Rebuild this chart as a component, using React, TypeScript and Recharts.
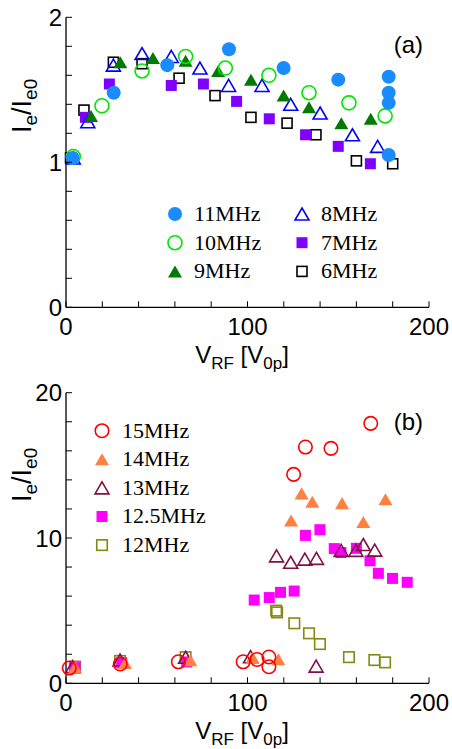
import React from 'react';
import { ScatterChart, Scatter, XAxis, YAxis, Legend } from 'recharts';

const SANS = '"Liberation Sans", Arial, Helvetica, sans-serif';
const SERIF = '"Liberation Serif", "Times New Roman", serif';

// ---------- ticks ----------
const xTicks = [0, 20, 40, 60, 80, 100, 120, 140, 160, 180, 200];
const xTickLabels = [0, 100, 200];
const yTicksA = [0, 0.2, 0.4, 0.6, 0.8, 1, 1.2, 1.4, 1.6, 1.8, 2];
const yTickLabelsA = [0, 1, 2];
const yTicksB = [0, 2, 4, 6, 8, 10, 12, 14, 16, 18, 20];
const yTickLabelsB = [0, 10, 20];

// ---------- panel (a) ----------
const v11MHz = [3.7, 26.3, 55.8, 89.8, 119.9, 150, 177.8, 177.8, 177.8, 177.8];
const r11MHz = [1.03, 1.48, 1.67, 1.78, 1.65, 1.57, 1.59, 1.48, 1.41, 1.05];
const v10MHz = [4, 19.8, 41.9, 65.9, 87.8, 111.8, 133.9, 155.9, 175.8];
const r10MHz = [1.04, 1.39, 1.63, 1.73, 1.65, 1.6, 1.48, 1.41, 1.32];
const v9MHz = [13.8, 29.9, 47.9, 65.9, 83.8, 101.9, 119.9, 133.9, 151.7, 167.9];
const r9MHz = [1.32, 1.69, 1.72, 1.7, 1.63, 1.57, 1.46, 1.38, 1.27, 1.3];
const v8MHz = [4, 12, 26.1, 41.9, 58, 73.8, 89.6, 108, 123.8, 140, 157.8, 171.7];
const r8MHz = [1.03, 1.28, 1.67, 1.75, 1.73, 1.65, 1.53, 1.53, 1.4, 1.34, 1.19, 1.11];
const v7MHz = [10.7, 23.9, 58, 75.7, 94, 112, 132, 150, 167.7];
const r7MHz = [1.31, 1.54, 1.53, 1.54, 1.42, 1.3, 1.19, 1.11, 0.99];
const v6MHz = [2.5, 9.9, 26.1, 41.9, 62.3, 82.1, 101.9, 121.8, 137.7, 160, 180];
const r6MHz = [1.03, 1.36, 1.69, 1.68, 1.58, 1.46, 1.31, 1.27, 1.19, 1.01, 0.99];

// ---------- panel (b) ----------
const v15MHz = [1.8, 29.9, 61.9, 97.6, 105.3, 111.8, 111.8, 125.4, 131.9, 146, 167.9];
const r15MHz = [1.05, 1.33, 1.48, 1.48, 1.64, 1.81, 1.14, 14.38, 16.26, 16.17, 17.89];
const v14MHz = [5, 32.5, 68.5, 102.7, 117, 124, 129.8, 135.7, 152.1, 163.8, 176];
const r14MHz = [1.1, 1.4, 1.58, 1.8, 1.65, 11.2, 13.07, 12.5, 12.4, 11.1, 12.66];
const v13MHz = [3.7, 29.8, 65.9, 101.7, 116, 123.8, 131.6, 138, 137.8, 151.6, 159.7, 163.8, 170.1];
const r13MHz = [1.15, 1.6, 1.79, 1.83, 8.77, 8.33, 8.55, 8.6, 1.18, 9.15, 9.15, 9.55, 9.17];
const v12p5MHz = [5, 30.7, 66.5, 103.7, 112, 118.2, 125.7, 131.9, 139.9, 147.8, 151.5, 160, 167.5, 172.1, 179.9, 188];
const r12p5MHz = [1.08, 1.42, 1.47, 5.73, 5.9, 6.26, 6.35, 10.18, 10.57, 9.27, 9.0, 9.29, 8.43, 7.57, 7.22, 6.95];
const v12MHz = [5, 29.8, 65.9, 115.8, 116.3, 125.8, 133.9, 139.9, 155.9, 169.9, 175.8];
const r12MHz = [1.15, 1.54, 1.8, 5.0, 4.88, 4.13, 3.44, 2.7, 1.8, 1.6, 1.44];

const zip = (xs: number[], ys: number[]) => xs.map((x, i) => ({ x, y: ys[i] }));

type Kind = 'circle' | 'triangle' | 'square';
interface Series {
  name: string;
  kind: Kind;
  filled: boolean;
  color: string;
  size: number;
  data: { x: number; y: number }[];
}

const seriesA: Series[] = [
  { name: '6MHz', kind: 'square', filled: false, color: '#000000', size: 10, data: zip(v6MHz, r6MHz) },
  { name: '7MHz', kind: 'square', filled: true, color: '#8000ff', size: 11, data: zip(v7MHz, r7MHz) },
  { name: '8MHz', kind: 'triangle', filled: false, color: '#0000ff', size: 14, data: zip(v8MHz, r8MHz) },
  { name: '9MHz', kind: 'triangle', filled: true, color: '#007a00', size: 14, data: zip(v9MHz, r9MHz) },
  { name: '10MHz', kind: 'circle', filled: false, color: '#00e600', size: 14, data: zip(v10MHz, r10MHz) },
  { name: '11MHz', kind: 'circle', filled: true, color: '#1a8cff', size: 14, data: zip(v11MHz, r11MHz) },
];
const legendOrderA = ['11MHz', '10MHz', '9MHz', '8MHz', '7MHz', '6MHz'];

const seriesB: Series[] = [
  { name: '12MHz', kind: 'square', filled: false, color: '#878712', size: 10.5, data: zip(v12MHz, r12MHz) },
  { name: '12.5MHz', kind: 'square', filled: true, color: '#ff00ff', size: 11, data: zip(v12p5MHz, r12p5MHz) },
  { name: '13MHz', kind: 'triangle', filled: false, color: '#80104a', size: 14, data: zip(v13MHz, r13MHz) },
  { name: '14MHz', kind: 'triangle', filled: true, color: '#ff8040', size: 14, data: zip(v14MHz, r14MHz) },
  { name: '15MHz', kind: 'circle', filled: false, color: '#ff0000', size: 13.5, data: zip(v15MHz, r15MHz) },
];
const legendOrderB = ['15MHz', '14MHz', '13MHz', '12.5MHz', '12MHz'];

function Marker({ kind, cx, cy, color, filled, size }: any) {
  if (cx == null || cy == null) return null;
  const style = filled
    ? { fill: color, stroke: 'none' }
    : { fill: 'none', stroke: color, strokeWidth: 1.6 };
  if (kind === 'circle') return <circle cx={cx} cy={cy} r={size / 2} {...style} />;
  if (kind === 'square')
    return <rect x={cx - size / 2} y={cy - size / 2} width={size} height={size} {...style} />;
  const h = size * 0.86;
  return (
    <polygon
      points={`${cx},${cy - h / 2} ${cx + size / 2},${cy + h / 2} ${cx - size / 2},${cy + h / 2}`}
      {...style}
    />
  );
}

function AxisTick(props: any) {
  const { x, y, payload, side, labels } = props;
  const v = payload?.value;
  const L = 6;
  const show = labels && labels.includes(v);
  if (side === 'bottom')
    return (
      <g>
        <line x1={x} y1={y} x2={x} y2={y - L} stroke="#000" strokeWidth={1} />
        {show && (
          <text x={x} y={y + 27.5} textAnchor="middle" fontFamily={SANS} fontSize={24} fill="#000">
            {v}
          </text>
        )}
      </g>
    );
  if (side === 'top') return <line x1={x} y1={y} x2={x} y2={y + L} stroke="#000" strokeWidth={1} />;
  if (side === 'left')
    return (
      <g>
        <line x1={x} y1={y} x2={x + L} y2={y} stroke="#000" strokeWidth={1} />
        {show && (
          <text x={x - 4} y={y + 8.6} textAnchor="end" fontFamily={SANS} fontSize={24} fill="#000">
            {v}
          </text>
        )}
      </g>
    );
  return <line x1={x} y1={y} x2={x - L} y2={y} stroke="#000" strokeWidth={1} />;
}

const XLabel = ({ baseY }: { baseY: number }) => (
  <text x={242} y={baseY} textAnchor="middle" fontFamily={SANS} fontSize={24} fill="#000">
    V<tspan fontSize={17} dy={6}>RF</tspan>
    <tspan fontSize={24} dy={-6}> [V</tspan>
    <tspan fontSize={17} dy={6}>0p</tspan>
    <tspan fontSize={24} dy={-6}>]</tspan>
  </text>
);

// rotated label, starting at its lower end (startY) and reading upwards
const YLabel = ({ startY }: { startY: number }) => (
  <text
    x={31}
    y={startY}
    transform={`rotate(-90, 31, ${startY})`}
    textAnchor="start"
    fontFamily={SANS}
    fontSize={27}
    fill="#000"
  >
    I<tspan fontSize={19} dy={6}>e</tspan>
    <tspan fontSize={27} dy={-6}>/I</tspan>
    <tspan fontSize={19} dy={6}>e0</tspan>
  </text>
);

function LegendOverlay({ series, order, cols, panel, panelY, width, height }: any) {
  const byName: Record<string, Series> = {};
  series.forEach((s: Series) => (byName[s.name] = s));
  return (
    <svg width={width} height={height} style={{ display: 'block', pointerEvents: 'none' }}>
      {order.map((n: string, i: number) => {
        const s = byName[n];
        const c = cols[Math.floor(i / cols[0].rows)];
        const r = i % cols[0].rows;
        const cy = c.y0 + r * c.dy;
        return (
          <g key={n}>
            <Marker kind={s.kind} cx={c.mx} cy={cy} color={s.color} filled={s.filled} size={s.size} />
            <text x={c.tx} y={cy + 6.8} fontFamily={SERIF} fontSize={22} fill="#000">
              {s.name}
            </text>
          </g>
        );
      })}
      <text x={423} y={panelY} textAnchor="end" fontFamily={SANS} fontSize={24} fill="#000">
        {panel}
      </text>
    </svg>
  );
}

function Panel({
  series,
  order,
  cols,
  panel,
  panelY,
  yTicks,
  yLabels,
  yMax,
  height,
  marginTop,
  marginBottom,
  yLabelStart,
}: any) {
  const plotBottom = height - marginBottom - 30;
  return (
    <ScatterChart
      width={452}
      height={height}
      margin={{ top: marginTop, right: 23, bottom: marginBottom, left: 0 }}
    >
      <XAxis
        dataKey="x"
        type="number"
        domain={[0, 200]}
        ticks={xTicks}
        interval={0}
        height={30}
        tickSize={0}
        tickMargin={0}
        tickLine={false}
        axisLine={{ stroke: '#000', strokeWidth: 1.3 }}
        tick={(p: any) => <AxisTick {...p} side="bottom" labels={xTickLabels} />}
        label={{ content: () => <XLabel baseY={plotBottom + 55.5} /> }}
      />
      <XAxis
        xAxisId="top"
        orientation="top"
        type="number"
        domain={[0, 200]}
        ticks={xTicks}
        interval={0}
        height={0}
        tickSize={0}
        tickMargin={0}
        tickLine={false}
        axisLine={{ stroke: '#000', strokeWidth: 1.3 }}
        tick={(p: any) => <AxisTick {...p} side="top" />}
      />
      <YAxis
        dataKey="y"
        type="number"
        domain={[0, yMax]}
        ticks={yTicks}
        interval={0}
        width={66}
        tickSize={0}
        tickMargin={0}
        tickLine={false}
        axisLine={{ stroke: '#000', strokeWidth: 1.3 }}
        tick={(p: any) => <AxisTick {...p} side="left" labels={yLabels} />}
        label={{ content: () => <YLabel startY={yLabelStart} /> }}
      />
      <YAxis
        yAxisId="right"
        orientation="right"
        type="number"
        domain={[0, yMax]}
        ticks={yTicks}
        interval={0}
        width={0}
        tickSize={0}
        tickMargin={0}
        tickLine={false}
        axisLine={{ stroke: '#000', strokeWidth: 1.3 }}
        tick={(p: any) => <AxisTick {...p} side="right" />}
      />
      {series.map((s: Series) => (
        <Scatter
          key={s.name}
          name={s.name}
          data={s.data}
          fill={s.color}
          isAnimationActive={false}
          shape={(p: any) => (
            <Marker kind={s.kind} cx={p.cx} cy={p.cy} color={s.color} filled={s.filled} size={s.size} />
          )}
        />
      ))}
      <Legend
        layout="horizontal"
        verticalAlign="middle"
        align="center"
        wrapperStyle={{ position: 'absolute', left: 0, top: 0, width: 452, height, margin: 0, pointerEvents: 'none' }}
        content={() => (
          <LegendOverlay
            series={series}
            order={order}
            cols={cols}
            panel={panel}
            panelY={panelY}
            width={452}
            height={height}
          />
        )}
      />
    </ScatterChart>
  );
}

export default function App() {
  return (
    <div style={{ position: 'absolute', left: 0, top: 0, width: 452, height: 749, background: '#fff' }}>
      <div style={{ position: 'absolute', left: 0, top: 0 }}>
        <Panel
          series={seriesA}
          order={legendOrderA}
          cols={[
            { rows: 3, mx: 175, tx: 194, y0: 214, dy: 28.7 },
            { rows: 3, mx: 302, tx: 321, y0: 214, dy: 28.7 },
          ]}
          panel="(a)"
          panelY={53.3}
          yTicks={yTicksA}
          yLabels={yTickLabelsA}
          yMax={2}
          height={375}
          marginTop={17.3}
          marginBottom={37.7}
          yLabelStart={133}
        />
      </div>
      <div style={{ position: 'absolute', left: 0, top: 375 }}>
        <Panel
          series={seriesB}
          order={legendOrderB}
          cols={[{ rows: 5, mx: 102, tx: 122, y0: 55.7, dy: 28.6 }]}
          panel="(b)"
          panelY={55}
          yTicks={yTicksB}
          yLabels={yTickLabelsB}
          yMax={20}
          height={374}
          marginTop={17.7}
          marginBottom={35.7}
          yLabelStart={127}
        />
      </div>
    </div>
  );
}
